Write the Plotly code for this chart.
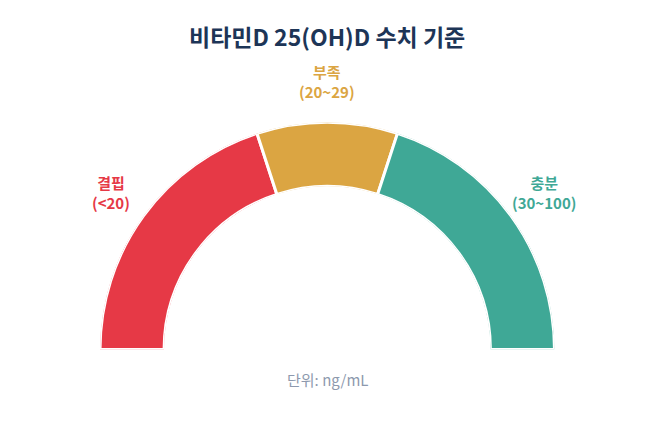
import numpy as np
import plotly.graph_objects as go

categories = ["결핍", "부족", "충분"]
ranges = ["(<20)", "(20~29)", "(30~100)"]
values = [20, 10, 20]
colors = ["#E63946", "#DBA542", "#3FA896"]

vals = np.array(values, dtype=float)
span = 180.0
widths = vals / vals.sum() * span
starts = np.concatenate([[0], np.cumsum(widths)[:-1]])
centers = starts + widths / 2

FONT = "Noto Sans CJK KR"
W, H = 654, 428
OFF = 8  # page body margin


def px(x):
    return (x - OFF) / W


def py(y):
    return 1 - (y - OFF) / H


fig = go.Figure()
fig.add_trace(go.Barpolar(
    r=[1] * len(values),
    theta=centers,
    width=widths,
    marker=dict(color=colors, line=dict(color="white", width=3)),
    hoverinfo="skip",
))

fig.update_layout(
    width=W, height=H,
    margin=dict(l=0, r=0, t=0, b=0),
    paper_bgcolor="white",
    showlegend=False,
    polar=dict(
        domain=dict(x=[px(100), px(554.5)], y=[py(349.5), py(122.25)]),
        sector=[0, 180],
        hole=0.718,
        bgcolor="rgba(0,0,0,0)",
        radialaxis=dict(visible=False, range=[0, 1]),
        angularaxis=dict(visible=False, direction="clockwise", rotation=180),
    ),
    font=dict(family=FONT),
)

fig.add_annotation(text="<b>비타민D 25(OH)D 수치 기준</b>", x=px(327), y=py(36),
                   xref="paper", yref="paper", showarrow=False,
                   xanchor="center", yanchor="middle",
                   font=dict(size=23, color="#1D3557", family=FONT))

label_pos = [(111, 192), (327, 82), (544, 192)]
for cat, rg, col, (lx, ly) in zip(categories, ranges, colors, label_pos):
    fig.add_annotation(text=f"<b>{cat}<br>{rg}</b>", x=px(lx), y=py(ly),
                       xref="paper", yref="paper", showarrow=False,
                       xanchor="center", yanchor="middle",
                       font=dict(size=15, color=col, family=FONT))

fig.add_annotation(text="단위: ng/mL", x=px(327), y=py(379),
                   xref="paper", yref="paper", showarrow=False,
                   xanchor="center", yanchor="middle",
                   font=dict(size=15, color="#8D99AE", family=FONT))

fig.write_html("out.html")
